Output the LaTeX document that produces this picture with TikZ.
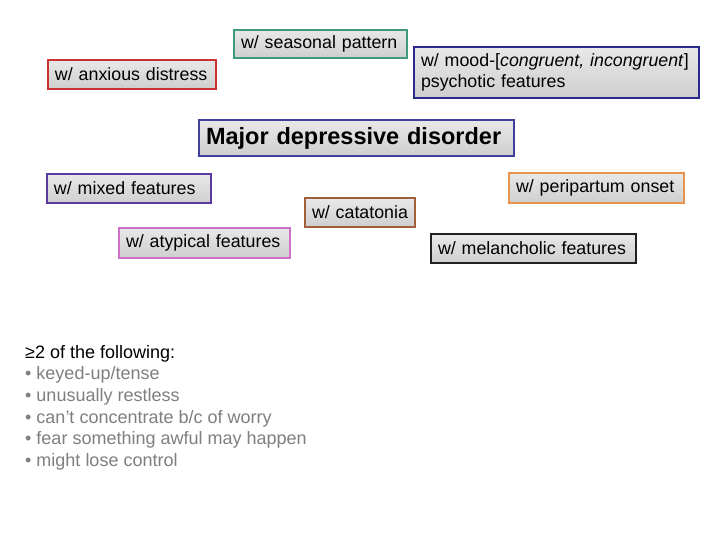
\documentclass[tikz,border=0pt]{standalone}
\usepackage{fontspec}
\setmainfont{Liberation Sans}
\definecolor{cSeason}{HTML}{3F9A78}
\definecolor{cAnx}{HTML}{C83232}
\definecolor{cMood}{HTML}{2A2A8C}
\definecolor{cMDD}{HTML}{40409A}
\definecolor{cMixed}{HTML}{5A3A9E}
\definecolor{cPeri}{HTML}{E8944C}
\definecolor{cCata}{HTML}{A0603C}
\definecolor{cAtyp}{HTML}{D070C8}
\definecolor{cMel}{HTML}{202020}
\definecolor{listgray}{HTML}{7F7F7F}
\tikzset{
  spec/.style={draw, line width=1.2bp, top color=gray!18, bottom color=gray!38,
    inner xsep=7bp, inner ysep=1bp, align=left, font=\fontsize{17.8bp}{21bp}\selectfont},
}
\begin{document}
\begin{tikzpicture}[x=1bp,y=1bp]
\path[use as bounding box, fill=white] (0,0) rectangle (720,540);
\node[spec, draw=cSeason, text width=159bp, minimum height=28bp] (seasonal) at (320.5,496) {w/ seasonal pattern};
\node[spec, draw=cAnx, text width=154bp, minimum height=29bp] (anxious) at (132,465.5) {w/ anxious distress};
\node[spec, draw=cMood, text width=271bp, minimum height=51bp] (mood) at (556.5,467.5) {w/ mood-[\textit{congruent, incongruent}]\\psychotic features};
\node[spec, draw=cMDD, text width=301bp, minimum height=36bp, font=\fontsize{23.5bp}{27bp}\selectfont\bfseries] (mdd) at (356.5,402) {Major depressive disorder};
\node[spec, draw=cMixed, text width=150bp, minimum height=29bp] (mixed) at (129,351.5) {w/ mixed features};
\node[spec, draw=cPeri, text width=161bp, minimum height=30bp] (peri) at (596.5,352) {w/ peripartum onset};
\node[spec, draw=cCata, text width=96bp, minimum height=29bp] (cata) at (360,327.5) {w/ catatonia};
\node[spec, draw=cAtyp, text width=157bp, minimum height=30bp] (atyp) at (204.5,297) {w/ atypical features};
\node[spec, draw=cMel, text width=191bp, minimum height=29bp] (mel) at (533.5,291.5) {w/ melancholic features};
\node[anchor=north west, inner sep=0pt, align=left, font=\fontsize{18bp}{21.6bp}\selectfont] (list) at (25,195)
  {≥2 of the following:\\
   \textcolor{listgray}{• keyed-up/tense}\\
   \textcolor{listgray}{• unusually restless}\\
   \textcolor{listgray}{• can’t concentrate b/c of worry}\\
   \textcolor{listgray}{• fear something awful may happen}\\
   \textcolor{listgray}{• might lose control}};
\end{tikzpicture}
\end{document}
